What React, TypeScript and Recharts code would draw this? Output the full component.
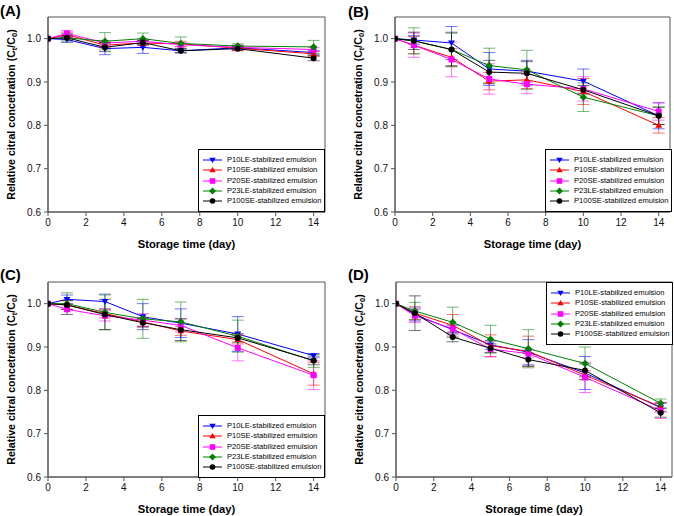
import React from 'react';
import { LineChart, Line, XAxis, YAxis, ErrorBar, ReferenceArea, Legend, Label } from 'recharts';

const days = [0, 1, 3, 5, 7, 10, 14];
const seriesNames = ['P10LE', 'P10SE', 'P20SE', 'P23LE', 'P100SE'];
const seriesColors = ['#0000ff', '#ff0000', '#ff00ff', '#008000', '#000000'];
const seriesShapes = ['down', 'up', 'square', 'diamond', 'circle'];
const yTicks = [0.6, 0.7, 0.8, 0.9, 1.0];
const xTicks = [0, 2, 4, 6, 8, 10, 12, 14];

// mean values, one row per series (same order as seriesNames)
const meanA = [
  [1.0, 0.998, 0.977, 0.98, 0.972, 0.979, 0.968],
  [1.0, 1.009, 0.985, 0.99, 0.988, 0.978, 0.965],
  [1.0, 1.012, 0.99, 0.994, 0.986, 0.98, 0.975],
  [1.0, 1.002, 0.994, 1.0, 0.989, 0.983, 0.981],
  [1.0, 1.002, 0.98, 0.991, 0.972, 0.977, 0.955],
];
const errA = [
  [0, 0.006, 0.014, 0.014, 0.004, 0.004, 0.004],
  [0, 0.006, 0.006, 0.006, 0.006, 0.006, 0.006],
  [0, 0.007, 0.006, 0.005, 0.005, 0.005, 0.005],
  [0, 0.01, 0.02, 0.013, 0.015, 0.005, 0.015],
  [0, 0.005, 0.01, 0.005, 0.005, 0.004, 0.006],
];

const meanB = [
  [1.0, 0.997, 0.99, 0.93, 0.925, 0.902, 0.822],
  [1.0, 0.985, 0.957, 0.902, 0.905, 0.878, 0.8],
  [1.0, 0.985, 0.952, 0.907, 0.895, 0.884, 0.832],
  [1.0, 0.995, 0.975, 0.938, 0.928, 0.865, 0.822],
  [1.0, 0.995, 0.975, 0.923, 0.92, 0.882, 0.822],
];
const errB = [
  [0, 0.01, 0.038, 0.038, 0.025, 0.028, 0.03],
  [0, 0.02, 0.02, 0.02, 0.02, 0.03, 0.018],
  [0, 0.028, 0.04, 0.035, 0.022, 0.028, 0.02],
  [0, 0.03, 0.04, 0.04, 0.045, 0.033, 0.02],
  [0, 0.02, 0.038, 0.027, 0.027, 0.01, 0.02],
];

const meanC = [
  [1.0, 1.01, 1.005, 0.97, 0.955, 0.93, 0.88],
  [1.0, 0.997, 0.977, 0.958, 0.937, 0.917, 0.838],
  [1.0, 0.987, 0.972, 0.962, 0.95, 0.898, 0.835],
  [1.0, 1.0, 0.98, 0.965, 0.958, 0.925, 0.868],
  [1.0, 0.997, 0.975, 0.956, 0.94, 0.921, 0.869],
];
const errC = [
  [0, 0.01, 0.017, 0.03, 0.033, 0.04, 0.005],
  [0, 0.01, 0.01, 0.01, 0.01, 0.01, 0.026],
  [0, 0.012, 0.012, 0.015, 0.015, 0.03, 0.033],
  [0, 0.025, 0.04, 0.045, 0.046, 0.037, 0.015],
  [0, 0.01, 0.035, 0.01, 0.025, 0.01, 0.01],
];

const meanD = [
  [1.0, 0.975, 0.94, 0.905, 0.888, 0.84, 0.76],
  [1.0, 0.978, 0.95, 0.903, 0.89, 0.835, 0.762],
  [1.0, 0.972, 0.942, 0.895, 0.885, 0.83, 0.753],
  [1.0, 0.983, 0.957, 0.918, 0.896, 0.862, 0.77],
  [1.0, 0.978, 0.923, 0.897, 0.871, 0.846, 0.748],
];
const errD = [
  [0, 0.015, 0.01, 0.01, 0.029, 0.038, 0.01],
  [0, 0.015, 0.025, 0.025, 0.035, 0.01, 0.01],
  [0, 0.015, 0.01, 0.018, 0.01, 0.035, 0.018],
  [0, 0.02, 0.035, 0.032, 0.044, 0.038, 0.01],
  [0, 0.04, 0.011, 0.01, 0.015, 0.015, 0.01],
];

const FONT = '"Liberation Sans", Arial, sans-serif';
const X_MAX = 14.6;
const Y_MIN = 0.6;
const Y_MAX = 1.05;

function buildRows(means: number[][], errs: number[][]) {
  return days.map((d, i) => {
    const row: Record<string, number> = { day: d };
    seriesNames.forEach((n, s) => {
      row[n] = means[s][i];
      row[n + '_err'] = errs[s][i];
    });
    return row;
  });
}

function Marker({ shape, cx, cy, color, s = 3 }: any) {
  if (cx == null || cy == null) return null;
  if (shape === 'down') {
    return <polygon points={`${cx - s * 1.15},${cy - s * 0.8} ${cx + s * 1.15},${cy - s * 0.8} ${cx},${cy + s * 1.1}`} fill={color} />;
  }
  if (shape === 'up') {
    return <polygon points={`${cx - s * 1.15},${cy + s * 0.8} ${cx + s * 1.15},${cy + s * 0.8} ${cx},${cy - s * 1.1}`} fill={color} />;
  }
  if (shape === 'square') {
    return <rect x={cx - s} y={cy - s} width={s * 2} height={s * 2} fill={color} />;
  }
  if (shape === 'diamond') {
    return <polygon points={`${cx},${cy - s * 1.25} ${cx + s * 1.25},${cy} ${cx},${cy + s * 1.25} ${cx - s * 1.25},${cy}`} fill={color} />;
  }
  return <circle cx={cx} cy={cy} r={s} fill={color} />;
}

function LegendBox() {
  return (
    <div
      style={{
        width: 127,
        height: 63,
        boxSizing: 'border-box',
        border: '1px solid #000',
        background: '#fff',
        paddingTop: 5,
        fontFamily: FONT,
        fontSize: 7.6,
        color: '#000',
      }}
    >
      {seriesNames.map((n, i) => (
        <div key={n} style={{ display: 'flex', alignItems: 'center', height: 10.3 }}>
          <svg width={28} height={10} style={{ flex: 'none' }}>
            <line x1={4} x2={23} y1={5} y2={5} stroke={seriesColors[i]} strokeWidth={1} />
            <Marker shape={seriesShapes[i]} cx={13.5} cy={5} color={seriesColors[i]} s={2.8} />
          </svg>
          <span style={{ whiteSpace: 'nowrap', lineHeight: '10px' }}>{n}-stabilized emulsion</span>
        </div>
      ))}
    </div>
  );
}

function YLabel(props: any) {
  const vb = props.viewBox || {};
  const cx = vb.x + vb.width - 37;
  const cy = vb.y + vb.height / 2;
  return (
    <text
      x={cx}
      y={cy}
      transform={`rotate(-90, ${cx}, ${cy})`}
      textAnchor="middle"
      dominantBaseline="central"
      fontFamily={FONT}
      fontWeight="bold"
      fontSize={10.6}
      fill="#000"
    >
      Relative citral concetration (C
      <tspan fontSize={7.5} dy={2.5}>t</tspan>
      <tspan dy={-2.5}>/C</tspan>
      <tspan fontSize={7.5} dy={2.5}>0</tspan>
      <tspan dy={-2.5}>)</tspan>
    </text>
  );
}

function XLabel(props: any) {
  const vb = props.viewBox || {};
  return (
    <text
      x={vb.x + vb.width / 2}
      y={vb.y + 36}
      textAnchor="middle"
      fontFamily={FONT}
      fontWeight="bold"
      fontSize={11.2}
      fill="#000"
    >
      Storage time (day)
    </text>
  );
}

type PanelProps = {
  tag: string;
  means: number[][];
  errs: number[][];
  margin: { top: number; right: number; bottom: number; left: number };
  legendPos: { left: number; top: number };
  tagPos: { left: number; top: number };
};

function Panel({ tag, means, errs, margin, legendPos, tagPos }: PanelProps) {
  const rows = buildRows(means, errs);
  return (
    <div style={{ position: 'relative', width: 337, height: 258 }}>
      <div
        style={{
          position: 'absolute',
          left: tagPos.left,
          top: tagPos.top,
          fontFamily: FONT,
          fontWeight: 'bold',
          fontSize: 15,
          lineHeight: '15px',
          color: '#000',
        }}
      >
        ({tag})
      </div>
      <LineChart width={337} height={258} data={rows} margin={margin}>
        <XAxis
          dataKey="day"
          type="number"
          domain={[0, X_MAX]}
          ticks={xTicks}
          allowDataOverflow
          stroke="#555"
          tickSize={4}
          tickMargin={3}
          height={30}
          tick={{ fill: '#111', fontSize: 10, fontFamily: FONT }}
        >
          <Label content={XLabel} />
        </XAxis>
        <YAxis
          type="number"
          domain={[Y_MIN, Y_MAX]}
          ticks={yTicks}
          allowDataOverflow
          width={30}
          stroke="#555"
          tickSize={4}
          tickMargin={3}
          tickFormatter={(v: number) => v.toFixed(1)}
          tick={{ fill: '#111', fontSize: 10, fontFamily: FONT }}
        >
          <Label content={YLabel} />
        </YAxis>
        <ReferenceArea x1={0} x2={X_MAX} y1={Y_MIN} y2={Y_MAX} fill="none" stroke="#555" strokeWidth={1} ifOverflow="visible" />
        {seriesNames.map((n, i) => (
          <Line
            key={n}
            dataKey={n}
            name={`${n}-stabilized emulsion`}
            type="linear"
            stroke={seriesColors[i]}
            strokeWidth={1}
            isAnimationActive={false}
            dot={(p: any) => <Marker key={`${n}-${p.index}`} shape={seriesShapes[i]} cx={p.cx} cy={p.cy} color={seriesColors[i]} />}
            activeDot={false}
          >
            <ErrorBar dataKey={n + '_err'} width={6} stroke={seriesColors[i]} strokeOpacity={0.55} strokeWidth={1} direction="y" />
          </Line>
        ))}
        <Legend
          layout="vertical"
          align="center"
          verticalAlign="middle"
          content={() => <LegendBox />}
          wrapperStyle={{ left: legendPos.left, top: legendPos.top, width: 127, height: 63 }}
        />
      </LineChart>
    </div>
  );
}

export default function App() {
  return (
    <div
      style={{
        position: 'absolute',
        left: 0,
        top: 0,
        width: 674,
        height: 516,
        background: '#fff',
        display: 'grid',
        gridTemplateColumns: '337px 337px',
        gridTemplateRows: '258px 258px',
      }}
    >
      <Panel
        tag="A"
        means={meanA}
        errs={errA}
        margin={{ top: 17, right: 12, bottom: 16, left: 18 }}
        legendPos={{ left: 198, top: 149 }}
        tagPos={{ left: 0, top: 3 }}
      />
      <Panel
        tag="B"
        means={meanB}
        errs={errB}
        margin={{ top: 17, right: 4, bottom: 16, left: 28 }}
        legendPos={{ left: 208, top: 149 }}
        tagPos={{ left: 11, top: 4 }}
      />
      <Panel
        tag="C"
        means={meanC}
        errs={errC}
        margin={{ top: 24, right: 12, bottom: 9, left: 18 }}
        legendPos={{ left: 198, top: 157 }}
        tagPos={{ left: 0, top: 9 }}
      />
      <Panel
        tag="D"
        means={meanD}
        errs={errD}
        margin={{ top: 24, right: 2, bottom: 9, left: 29 }}
        legendPos={{ left: 209, top: 24 }}
        tagPos={{ left: 11, top: 9 }}
      />
    </div>
  );
}
